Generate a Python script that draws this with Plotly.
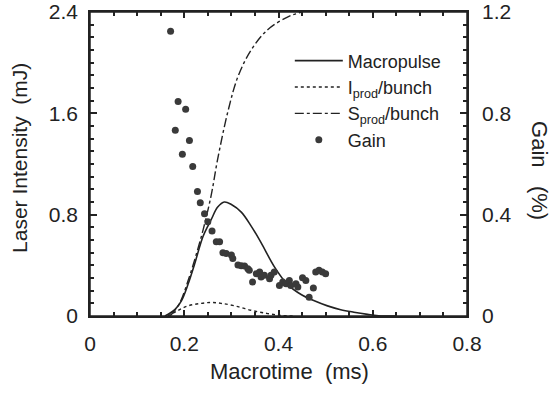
import plotly.graph_objects as go

# Macropulse (left axis, mJ)
macro_t = [0.159, 0.180, 0.194, 0.208, 0.222, 0.240, 0.257, 0.271, 0.285, 0.300, 0.321, 0.342,
           0.363, 0.391, 0.419, 0.448, 0.476, 0.504, 0.532, 0.560, 0.589, 0.617, 0.65]
macro_v = [0.0, 0.05, 0.12, 0.25, 0.41, 0.63, 0.76, 0.86, 0.90, 0.88, 0.82, 0.71,
           0.58, 0.39, 0.25, 0.17, 0.12, 0.08, 0.05, 0.03, 0.013, 0.0, 0.0]

# I_prod/bunch (left axis, mJ)
iprod_t = [0.165, 0.185, 0.208, 0.236, 0.257, 0.278, 0.307, 0.342, 0.377, 0.405, 0.43]
iprod_v = [0.0, 0.04, 0.08, 0.10, 0.107, 0.10, 0.08, 0.045, 0.019, 0.005, 0.0]

# S_prod/bunch (left axis scale)
sprod_t = [0.17, 0.19, 0.21, 0.225, 0.24, 0.257, 0.271, 0.293, 0.314, 0.342, 0.377, 0.419, 0.448, 0.48]
sprod_v = [0.0, 0.1, 0.3, 0.48, 0.68, 0.95, 1.24, 1.62, 1.89, 2.10, 2.26, 2.36, 2.40, 2.45]

# Gain (right axis, %)
gain_t = [0.171, 0.187, 0.203, 0.181, 0.211, 0.196, 0.218, 0.228, 0.234, 0.243, 0.250, 0.259,
          0.268, 0.275, 0.282, 0.289, 0.300, 0.303, 0.314, 0.321, 0.328, 0.335, 0.338, 0.345,
          0.353, 0.360, 0.363, 0.370, 0.381, 0.384, 0.391, 0.402, 0.409, 0.416, 0.423, 0.426,
          0.437, 0.441, 0.451, 0.458, 0.465, 0.474, 0.479, 0.486, 0.493, 0.500]
gain_v = [1.124, 0.847, 0.816, 0.733, 0.693, 0.638, 0.590, 0.491, 0.447, 0.404, 0.372, 0.336,
          0.293, 0.293, 0.250, 0.247, 0.241, 0.227, 0.201, 0.198, 0.197, 0.187, 0.181, 0.134,
          0.167, 0.174, 0.154, 0.161, 0.147, 0.161, 0.174, 0.120, 0.134, 0.127, 0.140, 0.120,
          0.127, 0.114, 0.151, 0.140, 0.074, 0.111, 0.174, 0.181, 0.174, 0.167]

x_ticks = [0, 0.2, 0.4, 0.6, 0.8]
x_ticklabels = ["0", "0.2", "0.4", "0.6", "0.8"]
y_ticks = [0, 0.8, 1.6, 2.4]
y_ticklabels = ["0", "0.8", "1.6", "2.4"]
y2_ticks = [0, 0.4, 0.8, 1.2]
y2_ticklabels = ["0", "0.4", "0.8", "1.2"]

FONT = "Liberation Sans, Arial, sans-serif"
INK = "#222222"

fig = go.Figure()
fig.add_trace(go.Scatter(x=macro_t, y=macro_v, mode="lines", name="Macropulse",
                         line=dict(color=INK, width=1.6), line_shape="spline"))
fig.add_trace(go.Scatter(x=iprod_t, y=iprod_v, mode="lines", name="I<sub>prod</sub>/bunch",
                         line=dict(color=INK, width=1.4, dash="dot"), line_shape="spline"))
fig.add_trace(go.Scatter(x=sprod_t, y=sprod_v, mode="lines", name="S<sub>prod</sub>/bunch",
                         line=dict(color=INK, width=1.4, dash="dashdot"), line_shape="spline"))
fig.add_trace(go.Scatter(x=gain_t, y=gain_v, mode="markers", name="Gain", yaxis="y2",
                         marker=dict(color="#3a3a3a", size=7)))

tick_common = dict(ticks="inside", tickcolor=INK, tickwidth=1.5, showgrid=False,
                   zeroline=False, automargin=False)

fig.update_layout(
    width=555, height=396,
    margin=dict(l=90, r=88, t=12, b=80, autoexpand=False),
    paper_bgcolor="white", plot_bgcolor="white",
    font=dict(family=FONT, color=INK, size=21),
    showlegend=True,
    legend=dict(x=0.53, y=0.90, xanchor="left", yanchor="top", bgcolor="rgba(0,0,0,0)",
                font=dict(size=18), itemwidth=48, tracegroupgap=0),
    xaxis=dict(range=[0, 0.8], tickmode="array", tickvals=x_ticks, ticktext=x_ticklabels,
               ticklen=6, minor=dict(tickmode="linear", tick0=0, dtick=0.05, ticks="inside",
                                     ticklen=4, tickcolor=INK),
               showline=True, linecolor=INK, linewidth=1.5, mirror="ticks",
               ticklabelstandoff=8, **tick_common),
    yaxis=dict(range=[0, 2.4], tickmode="array", tickvals=y_ticks, ticktext=y_ticklabels,
               ticklen=7, minor=dict(tickmode="linear", tick0=0, dtick=0.1, ticks="inside",
                                     ticklen=4, tickcolor=INK),
               showline=True, linecolor=INK, linewidth=1.5, mirror="ticks",
               ticklabelstandoff=6, **tick_common),
    yaxis2=dict(range=[0, 1.2], tickmode="array", tickvals=y2_ticks, ticktext=y2_ticklabels,
                overlaying="y", side="right", ticks="", showline=False,
                showgrid=False, zeroline=False, automargin=False, ticklabelstandoff=14),
    shapes=[dict(type="rect", xref="paper", yref="paper", x0=0, x1=1, y0=0, y1=1,
                 line=dict(color=INK, width=1.5), layer="above")],
    annotations=[
        dict(text="Laser Intensity  (mJ)", x=0, xref="paper", xshift=-70, y=0.52, yref="paper",
             xanchor="center", yanchor="middle",
             textangle=-90, showarrow=False, font=dict(size=21)),
        dict(text="Gain   (%)", x=1, xref="paper", xshift=73, y=0.48, yref="paper",
             xanchor="center", yanchor="middle",
             textangle=90, showarrow=False, font=dict(size=22)),
        dict(text="Macrotime  (ms)", x=0.53, xref="paper", y=-0.184, yref="paper",
             xanchor="center", yanchor="middle",
             showarrow=False, font=dict(size=22)),
    ],
)

fig.write_html("out.html", config={"displayModeBar": False},
               post_script="document.body.style.margin='0';")
